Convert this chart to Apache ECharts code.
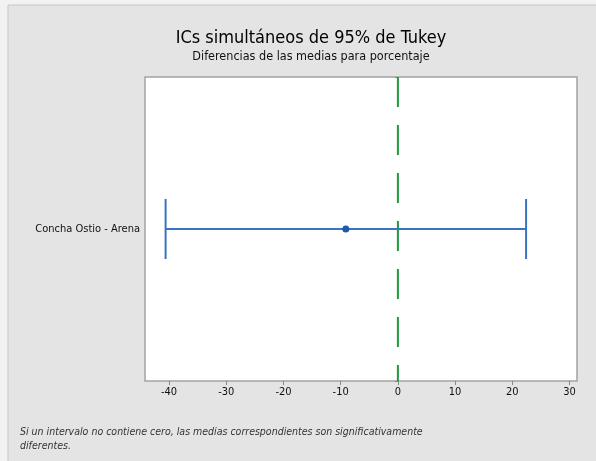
<!DOCTYPE html>
<html>
<head>
<meta charset="utf-8">
<script src="https://cdn.jsdelivr.net/npm/echarts@6/dist/echarts.min.js"></script>
<style>
  html, body { margin: 0; padding: 0; background: #f2f2f2; }
  #chart { width: 596px; height: 461px; }
</style>
</head>
<body>
<div id="chart"></div>
<script>
// Tukey simultaneous 95% CI
var categories = ['Concha Ostio - Arena']
var lowerValues = [-40.6]
var centerValues = [-9.1]
var upperValues = [22.4]
var xTicks = [-40, -30, -20, -10, 0, 10, 20, 30]

var chart = echarts.init(document.getElementById('chart'))
var font = "'Liberation Sans Narrow', 'DejaVu Sans Condensed', 'Liberation Sans', sans-serif"

var intervalData = categories.map(function(c, i) {
  return [lowerValues[i], centerValues[i], upperValues[i], i]
})

chart.setOption({
  animation: false,
  backgroundColor: '#f2f2f2',
  graphic: [{
    type: 'rect',
    z: -10,
    shape: { x: 8, y: 5, width: 600, height: 470 },
    style: { fill: '#e4e4e4', stroke: '#c6c6c6', lineWidth: 1 }
  }, {
    type: 'text',
    left: 20,
    top: 425,
    style: {
      text: 'Si un intervalo no contiene cero, las medias correspondientes son significativamente\ndiferentes.',
      font: 'italic 10.5px ' + font,
      fill: '#333',
      lineHeight: 14
    }
  }],
  title: {
    text: 'ICs simultáneos de 95% de Tukey',
    subtext: 'Diferencias de las medias para porcentaje',
    left: 306,
    textAlign: 'center',
    top: 24,
    itemGap: 3,
    textStyle: { fontFamily: font, fontSize: 18, fontWeight: 'normal', color: '#000' },
    subtextStyle: { fontFamily: font, fontSize: 12.5, color: '#111' }
  },
  grid: {
    left: 145,
    right: 19,
    top: 77,
    bottom: 80,
    show: true,
    backgroundColor: '#fff',
    borderColor: '#a3a3a3',
    borderWidth: 1.5
  },
  xAxis: {
    type: 'value',
    min: -44.2,
    max: 31.3,
    interval: 10,
    splitLine: { show: false },
    axisLine: { show: false },
    axisTick: { show: true, length: 4, lineStyle: { color: '#888' },
      customValues: xTicks },
    axisLabel: {
      customValues: xTicks,
      color: '#111',
      fontFamily: font,
      fontSize: 11,
      margin: 6
    }
  },
  yAxis: {
    type: 'category',
    data: categories,
    axisLine: { show: false },
    axisTick: { show: true, length: 3, lineStyle: { color: '#888' } },
    axisLabel: { color: '#111', fontFamily: font, fontSize: 11, margin: 5 }
  },
  series: [{
    type: 'custom',
    data: intervalData,
    encode: { x: [0, 1, 2], y: 3 },
    renderItem: function(params, api) {
      var lo = api.coord([api.value(0), api.value(3)])
      var mid = api.coord([api.value(1), api.value(3)])
      var hi = api.coord([api.value(2), api.value(3)])
      var cap = 30
      var blue = '#3a74c0'
      return {
        type: 'group',
        children: [
          { type: 'line', shape: { x1: lo[0], y1: lo[1], x2: hi[0], y2: hi[1] },
            style: { stroke: blue, lineWidth: 2 } },
          { type: 'line', shape: { x1: lo[0], y1: lo[1] - cap, x2: lo[0], y2: lo[1] + cap },
            style: { stroke: blue, lineWidth: 2 } },
          { type: 'line', shape: { x1: hi[0], y1: hi[1] - cap, x2: hi[0], y2: hi[1] + cap },
            style: { stroke: blue, lineWidth: 2 } },
          { type: 'circle', shape: { cx: mid[0], cy: mid[1], r: 3.5 },
            style: { fill: '#1f5aa8' } }
        ]
      }
    }
  }, {
    // zero reference line
    type: 'custom',
    data: [[0]],
    encode: { x: 0 },
    z: 1,
    renderItem: function(params, api) {
      var cs = params.coordSys
      var x0 = api.coord([api.value(0), 0])[0]
      return {
        type: 'line',
        shape: { x1: x0, y1: cs.y, x2: x0, y2: cs.y + cs.height },
        style: { stroke: '#1f9a3c', lineWidth: 2, lineDash: [30, 18] }
      }
    }
  }]
})
</script>
</body>
</html>
